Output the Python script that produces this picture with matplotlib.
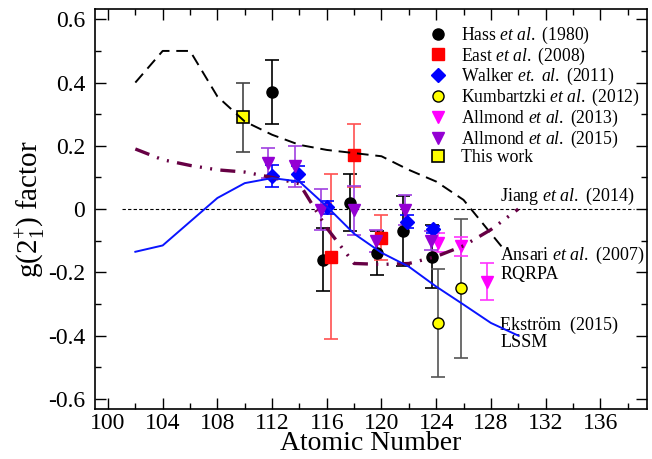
import numpy as np
import matplotlib
matplotlib.use("Agg")
import matplotlib.pyplot as plt
from matplotlib.ticker import MultipleLocator, FuncFormatter


# ------------------------------
# Style
# ------------------------------
plt.rcParams["font.family"] = ["Liberation Serif", "DejaVu Serif"]
plt.rcParams["mathtext.fontset"] = "custom"
plt.rcParams["mathtext.rm"] = "Liberation Serif"
plt.rcParams["mathtext.it"] = "Liberation Serif:italic"
plt.rcParams["axes.unicode_minus"] = False


# ------------------------------
# Data: measurements (Z, g, error)
# ------------------------------
hass_z = [112, 115.7, 117.7, 119.7, 121.6, 123.7]
hass_g = [0.37, -0.16, 0.02, -0.14, -0.07, -0.15]
hass_err = [0.10, 0.10, 0.09, 0.07, 0.11, 0.10]

east_z = [116.3, 118.0, 120.0]
east_g = [-0.15, 0.17, -0.09]
east_err = [0.26, 0.10, 0.07]

walker_z = [112.0, 113.9, 116.0, 121.9, 123.8]
walker_g = [0.105, 0.11, 0.006, -0.04, -0.064]
walker_err = [0.035, 0.025, 0.02, 0.02, 0.012]

kumb_z = [124.1, 125.8]
kumb_g = [-0.36, -0.25]
kumb_err = [0.17, 0.22]

allm13_z = [124.1, 125.8, 127.7]
allm13_g = [-0.107, -0.118, -0.229]
allm13_err = [0.03, 0.03, 0.06]

allm15_z = [111.7, 113.7, 115.6, 118.0, 119.6, 121.7, 123.6]
allm15_g = [0.145, 0.135, -0.002, -0.004, -0.102, -0.002, -0.10]
allm15_err = [0.048, 0.065, 0.065, 0.077, 0.035, 0.048, 0.03]

this_z = [109.9]
this_g = [0.29]
this_err = [0.11]


# ------------------------------
# Data: theory curves
# ------------------------------
ansari_z = [102, 104, 106, 108, 110, 112, 114, 116, 118, 120, 122, 124, 126, 128, 129]
ansari_g = [0.40, 0.50, 0.50, 0.356, 0.277, 0.235, 0.203, 0.187, 0.177, 0.167,
            0.124, 0.087, 0.029, -0.077, -0.13]

jiang_z = [102, 104, 106, 108, 110, 112, 114, 116, 118, 120, 122, 124, 126, 128, 130]
jiang_g = [0.19, 0.156, 0.138, 0.124, 0.117, 0.10, 0.08, -0.06, -0.172, -0.175,
           -0.172, -0.15, -0.116, -0.065, 0.0]

lssm_z = [102, 104, 108, 110, 112, 114, 116, 118, 120, 122, 124, 126, 128, 130]
lssm_g = [-0.135, -0.115, 0.035, 0.082, 0.098, 0.087, 0.008, -0.078, -0.138,
          -0.182, -0.245, -0.302, -0.36, -0.40]

zero_z = [101, 138.5]
zero_g = [0, 0]


# ------------------------------
# Figure
# ------------------------------
fig = plt.figure(figsize=(6.52, 4.59), dpi=100)
ax = fig.add_axes([0.1457, 0.109, 0.8463, 0.871])

ax.plot(zero_z, zero_g, color="black", lw=0.8, linestyle=(0, (3, 2)), zorder=2)

ax.plot(ansari_z, ansari_g, color="black", lw=1.4, linestyle=(0, (6, 3.5)), zorder=5)
ax.plot(jiang_z, jiang_g, color="#660044", lw=2.4,
        linestyle=(0, (4.5, 2.5, 0.6, 2.5, 0.6, 2.5)), zorder=5)
ax.plot(lssm_z, lssm_g, color="#0a14ff", lw=1.4, zorder=5)

# error bars
bar_kw = dict(fmt="none", capsize=5, elinewidth=1.2, capthick=1.2, zorder=3)
ax.errorbar(hass_z, hass_g, yerr=hass_err, ecolor="black", **bar_kw)
ax.errorbar(east_z, east_g, yerr=east_err, ecolor="#ff5050", **bar_kw)
ax.errorbar(walker_z, walker_g, yerr=walker_err, ecolor="#0000ff", **bar_kw)
ax.errorbar(kumb_z, kumb_g, yerr=kumb_err, ecolor="#555555", **bar_kw)
ax.errorbar(allm13_z, allm13_g, yerr=allm13_err, ecolor="#ff33ff", **bar_kw)
ax.errorbar(allm15_z, allm15_g, yerr=allm15_err, ecolor="#a040e0", **bar_kw)
ax.errorbar(this_z, this_g, yerr=this_err, ecolor="#444444", **bar_kw)

# markers
ax.plot(hass_z, hass_g, "o", color="black", ms=8, zorder=4,
        label="Hass $\\it{et\\ al.}$ (1980)")
ax.plot(east_z, east_g, "s", color="#ff0000", ms=8, zorder=4,
        label="East $\\it{et\\ al.}$ (2008)")
ax.plot(walker_z, walker_g, "D", color="#0000ff", ms=7.5, zorder=4,
        label="Walker $\\it{et.\\ al.}$ (2011)")
ax.plot(kumb_z, kumb_g, "o", mfc="#ffff00", mec="black", mew=1.0, ms=8, zorder=4,
        label="Kumbartzki $\\it{et\\ al.}$ (2012)")
ax.plot(allm13_z, allm13_g, "v", color="#ff00ff", ms=9, zorder=4,
        label="Allmond $\\it{et\\ al.}$ (2013)")
ax.plot(allm15_z, allm15_g, "v", color="#9400d3", ms=9, zorder=4,
        label="Allmond $\\it{et\\ al.}$ (2015)")
ax.plot(this_z, this_g, "s", mfc="#ffff00", mec="black", mew=1.2, ms=8, zorder=4,
        label="This work")

# curve labels
ax.text(128.7, 0.005, "Jiang $\\it{et\\ al.}$ (2014)", fontsize=13, va="bottom")
ax.text(128.7, -0.172, "Ansari $\\it{et\\ al.}$ (2007)\nRQRPA", fontsize=13,
        va="center", linespacing=1.0)
ax.text(128.7, -0.395, "Ekstr\u00f6m  (2015)\nLSSM", fontsize=13,
        va="center", linespacing=1.0)

# axes
ax.set_xlim(99.05, 139.4)
ax.set_ylim(-0.632, 0.632)
ax.xaxis.set_major_locator(MultipleLocator(4))
ax.xaxis.set_minor_locator(MultipleLocator(2))
ax.yaxis.set_major_locator(MultipleLocator(0.2))
ax.yaxis.set_minor_locator(MultipleLocator(0.1))
ax.yaxis.set_major_formatter(FuncFormatter(lambda v, p: "0" if abs(v) < 1e-9 else "%g" % v))
ax.tick_params(which="both", direction="in", top=True, right=True, width=1.0,
               labelsize=17)
ax.tick_params(which="major", length=8)
ax.tick_params(which="minor", length=4.5)
ax.tick_params(axis="x", which="major", pad=3)
ax.tick_params(axis="y", which="major", pad=7)
for s in ax.spines.values():
    s.set_linewidth(1.2)

ax.set_xlabel("Atomic Number", fontsize=20, labelpad=-2)
ax.set_ylabel("g(2$_{1}^{+}$) factor", fontsize=21, labelpad=0)

ax.legend(loc="upper left", bbox_to_anchor=(0.602, 0.961), frameon=False,
          fontsize=12.7, borderpad=0, handlelength=1.2, handletextpad=0.7,
          labelspacing=-0.02, borderaxespad=0, numpoints=1)

fig.savefig("out.png", dpi=100)
